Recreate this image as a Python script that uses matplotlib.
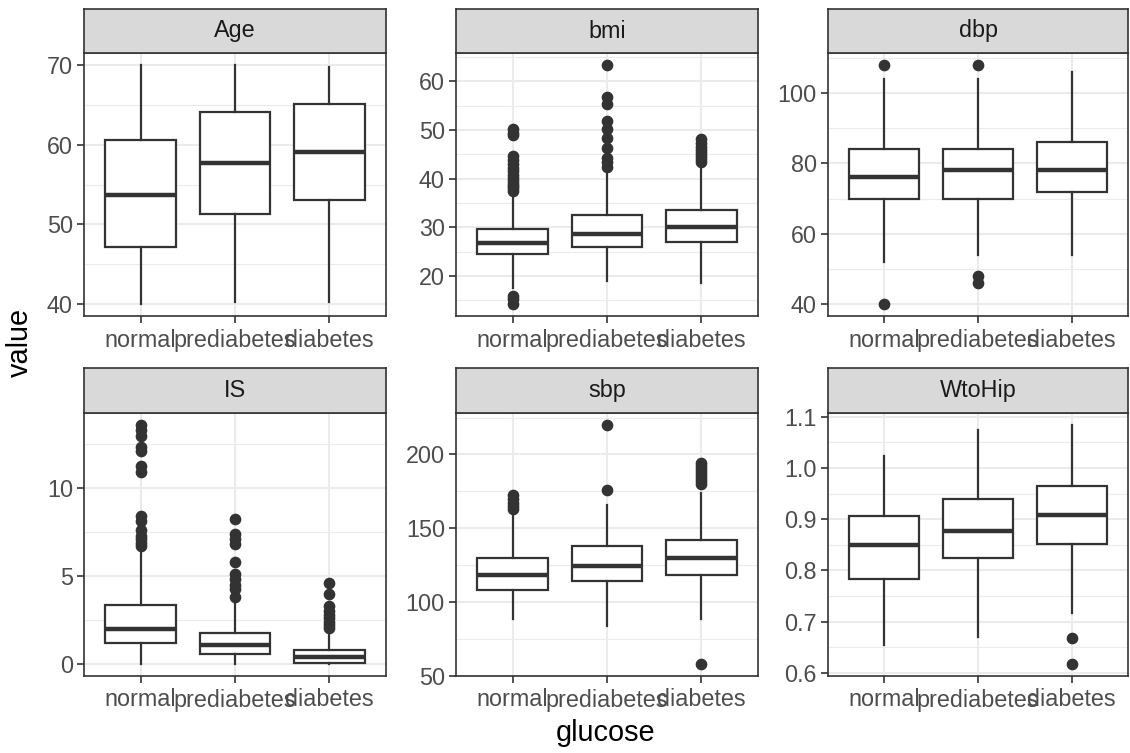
import matplotlib
matplotlib.use("Agg")
import matplotlib.pyplot as plt
from matplotlib.ticker import MultipleLocator, FormatStrFormatter

plt.rcParams['font.family'] = ['Liberation Sans', 'DejaVu Sans']

groups = ["normal", "prediabetes", "diabetes"]
variables = ["Age", "bmi", "dbp", "IS", "sbp", "WtoHip"]

# five-number summaries per group: [whisker low, Q1, median, Q3, whisker high]
age_box = [[40.0, 47.2, 53.7, 60.6, 70.0],
           [40.3, 51.3, 57.7, 64.1, 70.0],
           [40.2, 53.1, 59.1, 65.1, 69.8]]
age_out = [[], [], []]

bmi_box = [[17.5, 24.4, 26.8, 29.6, 37.0],
           [18.9, 26.0, 28.6, 32.5, 42.1],
           [18.6, 27.0, 30.1, 33.6, 42.8]]
bmi_out = [[14.2, 15.3, 15.9, 37.5, 38.0, 38.5, 39.0, 39.6, 40.2, 40.8, 41.5,
            42.2, 43.0, 43.8, 44.6, 48.9, 49.5, 50.3],
           [42.5, 43.5, 44.2, 46.3, 48.3, 50.2, 51.9, 55.4, 56.9, 63.4],
           [43.5, 44.0, 44.6, 45.2, 45.8, 46.5, 47.3, 48.2]]

dbp_box = [[52.0, 70.0, 76.0, 84.0, 104.0],
           [54.0, 70.0, 78.0, 84.0, 104.0],
           [54.0, 72.0, 78.0, 86.0, 106.0]]
dbp_out = [[40.0, 108.0],
           [46.0, 48.0, 108.0],
           []]

is_box = [[0.0, 1.18, 2.01, 3.38, 6.3],
          [0.0, 0.59, 1.06, 1.75, 3.5],
          [0.0, 0.04, 0.42, 0.78, 1.85]]
is_out = [[6.7, 6.9, 7.1, 7.3, 7.6, 8.15, 8.4, 10.95, 11.25, 12.1, 12.35,
           12.95, 13.3, 13.6],
          [3.8, 4.25, 4.5, 4.85, 5.1, 5.8, 6.85, 7.1, 7.4, 8.25],
          [2.03, 2.2, 2.4, 2.6, 2.8, 3.0, 3.3, 3.97, 4.63]]

sbp_box = [[88.5, 108.0, 118.3, 130.0, 160.0],
           [84.0, 114.2, 124.2, 138.0, 166.0],
           [88.5, 118.0, 130.0, 142.0, 174.0]]
sbp_out = [[163.0, 165.0, 167.0, 170.0, 172.5],
           [176.0, 220.0],
           [58.0, 180.0, 182.0, 184.0, 186.0, 188.0, 190.0, 192.0, 194.5]]

whr_box = [[0.655, 0.784, 0.849, 0.907, 1.024],
           [0.670, 0.824, 0.877, 0.940, 1.074],
           [0.716, 0.851, 0.908, 0.964, 1.084]]
whr_out = [[], [], [0.667, 0.617]]

boxes = [age_box, bmi_box, dbp_box, is_box, sbp_box, whr_box]
outliers = [age_out, bmi_out, dbp_out, is_out, sbp_out, whr_out]
major_steps = [10, 10, 20, 5, 50, 0.1]

W, H = 1130, 753
fig = plt.figure(figsize=(W / 100, H / 100), dpi=100)
fig.patch.set_facecolor("white")

col_x = [(84, 386), (456, 758), (828, 1128)]
row_y = [(9, 53, 316), (368, 413, 676)]  # strip top, panel top, panel bottom

dark = "#333333"
grid_col = "#EBEBEB"
tick_col = "#4D4D4D"
fs = 16.8

for i, var in enumerate(variables):
    r, c = divmod(i, 3)
    x0, x1 = col_x[c]
    st, pt, pb = row_y[r]
    ax = fig.add_axes([x0 / W, 1 - pb / H, (x1 - x0) / W, (pb - pt) / H])
    sax = fig.add_axes([x0 / W, 1 - pt / H, (x1 - x0) / W, (pt - st) / H])

    stats = []
    allv = []
    for g, b, o in zip(groups, boxes[i], outliers[i]):
        stats.append(dict(label=g, whislo=b[0], q1=b[1], med=b[2], q3=b[3],
                          whishi=b[4], fliers=o))
        allv += b + o
    ax.bxp(stats, positions=[1, 2, 3], widths=0.75, showcaps=False,
           patch_artist=True,
           boxprops=dict(facecolor="white", edgecolor=dark, linewidth=1.6),
           medianprops=dict(color=dark, linewidth=3.2, solid_capstyle="butt"),
           whiskerprops=dict(color=dark, linewidth=1.6),
           flierprops=dict(marker="o", markerfacecolor=dark,
                           markeredgecolor=dark, markersize=7.4),
           zorder=3)

    lo, hi = min(allv), max(allv)
    pad = (hi - lo) * 0.05
    ax.set_ylim(lo - pad, hi + pad)
    ax.set_xlim(0.4, 3.6)
    ax.yaxis.set_major_locator(MultipleLocator(major_steps[i]))
    ax.yaxis.set_minor_locator(MultipleLocator(major_steps[i] / 2))
    if var == "WtoHip":
        ax.yaxis.set_major_formatter(FormatStrFormatter("%.1f"))
    ax.set_xticks([1, 2, 3])
    ax.set_xticklabels(groups)
    ax.grid(True, which="major", color=grid_col, linewidth=1.5, zorder=0)
    ax.grid(True, which="minor", axis="y", color=grid_col, linewidth=0.8,
            zorder=0)
    ax.set_axisbelow(True)
    ax.tick_params(axis="both", which="major", direction="out", length=5,
                   width=1.2, color=dark, labelsize=fs, labelcolor=tick_col,
                   pad=3)
    ax.tick_params(axis="x", which="major", pad=4)
    ax.tick_params(axis="both", which="minor", length=0)
    for sp in ax.spines.values():
        sp.set_color(dark)
        sp.set_linewidth(1.2)

    sax.set_facecolor("#D9D9D9")
    sax.set_xticks([])
    sax.set_yticks([])
    for sp in sax.spines.values():
        sp.set_color(dark)
        sp.set_linewidth(1.2)
    sax.text(0.5, 0.5, var, ha="center", va="center", fontsize=fs,
             color="#1A1A1A", transform=sax.transAxes)

fig.text(20 / W, 1 - 342 / H, "value", rotation=90, ha="center", va="center",
         fontsize=20.8, color="black")
fig.text(606 / W, 1 - 733 / H, "glucose", ha="center", va="center",
         fontsize=20.8, color="black")

fig.savefig("out.png", dpi=100, facecolor="white")
